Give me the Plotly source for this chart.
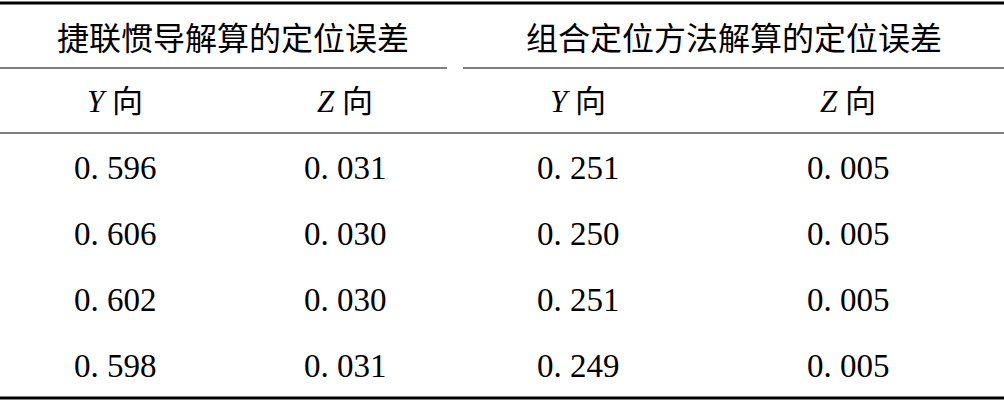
import plotly.graph_objects as go

group_headers = ["捷联惯导解算的定位误差", "组合定位方法解算的定位误差"]
sub_headers = ["<i>Y</i> 向", "<i>Z</i> 向", "<i>Y</i> 向", "<i>Z</i> 向"]
ins_y = ["0. 596", "0. 606", "0. 602", "0. 598"]
ins_z = ["0. 031", "0. 030", "0. 030", "0. 031"]
comb_y = ["0. 251", "0. 250", "0. 251", "0. 249"]
comb_z = ["0. 005", "0. 005", "0. 005", "0. 005"]

W, H = 1004, 401
col_x = [115, 345, 578, 848]
group_x = [233, 734]
row_y0, row_h = 168, 66

cjk = "Noto Sans CJK SC"
serif = "Liberation Serif"

fig = go.Figure()
ann = []
for x, t in zip(group_x, group_headers):
    ann.append(dict(x=x, y=36, text=t, font=dict(family=cjk, size=32)))
for x, t in zip(col_x, sub_headers):
    ann.append(dict(x=x, y=101, text=t, font=dict(family=serif + ", " + cjk, size=31)))
for x, col in zip(col_x, [ins_y, ins_z, comb_y, comb_z]):
    for i, v in enumerate(col):
        ann.append(dict(x=x, y=row_y0 + i * row_h, text=v, font=dict(family=serif, size=33)))
for a in ann:
    a.update(xref="x", yref="y", showarrow=False, font_color="black")

line = lambda x0, x1, y, w: dict(type="line", xref="x", yref="y", x0=x0, x1=x1, y0=y, y1=y,
                                 line=dict(color="black", width=w))
shapes = [line(0, W, 3, 3), line(0, 447, 68, 1.2), line(463, W, 68, 1.2),
          line(0, W, 133, 1.2), line(0, W, 398, 3)]

fig.update_layout(width=W, height=H, margin=dict(l=0, r=0, t=0, b=0),
                  plot_bgcolor="white", paper_bgcolor="white",
                  annotations=ann, shapes=shapes,
                  xaxis=dict(range=[0, W], visible=False, fixedrange=True),
                  yaxis=dict(range=[H, 0], visible=False, fixedrange=True))
fig.write_html("out.html", config={"displayModeBar": False},
               post_script="document.body.style.margin='0';document.body.style.overflow='hidden';")
